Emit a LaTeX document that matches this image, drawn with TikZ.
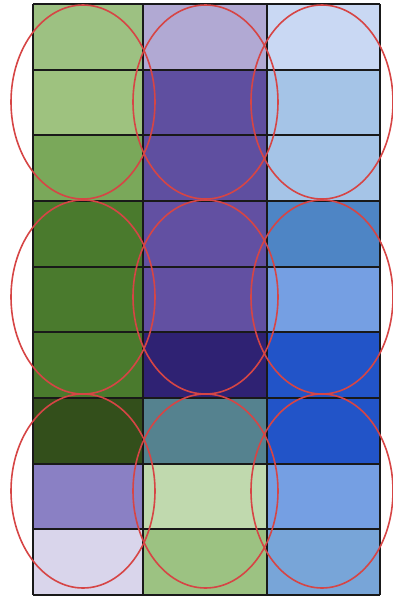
\documentclass[tikz,border=0pt]{standalone}
\usepackage{tikz}
\definecolor{ga}{HTML}{9DC182}\definecolor{pa}{HTML}{B1A9D3}\definecolor{ba}{HTML}{C9D8F3}
\definecolor{gb}{HTML}{9EC27F}\definecolor{pb}{HTML}{5F4FA0}\definecolor{bb}{HTML}{A5C4E7}
\definecolor{gc}{HTML}{7AA85A}
\definecolor{gd}{HTML}{4A7A2D}\definecolor{pd}{HTML}{6250A2}\definecolor{bd}{HTML}{4E85C5}
\definecolor{be}{HTML}{759FE3}
\definecolor{pf}{HTML}{2F2273}\definecolor{bf}{HTML}{2254C8}
\definecolor{gg}{HTML}{334F1B}\definecolor{tg}{HTML}{55828F}
\definecolor{ph}{HTML}{8A80C4}\definecolor{gh}{HTML}{C0D9AE}
\definecolor{pi}{HTML}{D9D5EB}\definecolor{gi}{HTML}{9CC282}\definecolor{bi}{HTML}{78A5D8}
\definecolor{ringred}{HTML}{D64545}
\tikzset{gridline/.style={draw=black!90,line width=2.2pt},
ring/.style={draw=ringred,line width=1.6pt}}
\begin{document}
\begin{tikzpicture}[x=1pt,y=-1pt]
\useasboundingbox (0,0) rectangle (393,598);
\def\xa{33}\def\xb{143}\def\xc{267}\def\xd{380}
\foreach \r/\ca/\cb/\cc [count=\i from 0] in {
ga/pa/ba, gb/pb/bb, gc/pb/bb, gd/pd/bd, gd/pd/be, gd/pf/bf, gg/tg/bf, ph/gh/be, pi/gi/bi}{
  \pgfmathsetmacro{\ytop}{4+\i*65.67}
  \pgfmathsetmacro{\ybot}{4+(\i+1)*65.67}
  \fill[\r] (\xa,\ytop) rectangle (\xb,\ybot);
  \fill[\ca] (\xb,\ytop) rectangle (\xc,\ybot);
  \fill[\cb] (\xc,\ytop) rectangle (\xd,\ybot);
}
\foreach \i in {0,...,9}{
  \pgfmathsetmacro{\yy}{4+\i*65.67}
  \draw[gridline] (\xa,\yy) -- (\xd,\yy);
}
\foreach \xx in {\xa,\xb,\xc,\xd}{
  \draw[gridline] (\xx,4) -- (\xx,595);
}
\foreach \cy in {102,297,491}{
  \draw[ring] (83,\cy) ellipse [x radius=72,y radius=97];
  \draw[ring] (205.5,\cy) ellipse [x radius=72.5,y radius=97];
  \draw[ring] (322,\cy) ellipse [x radius=71,y radius=97];
}
\end{tikzpicture}
\end{document}
